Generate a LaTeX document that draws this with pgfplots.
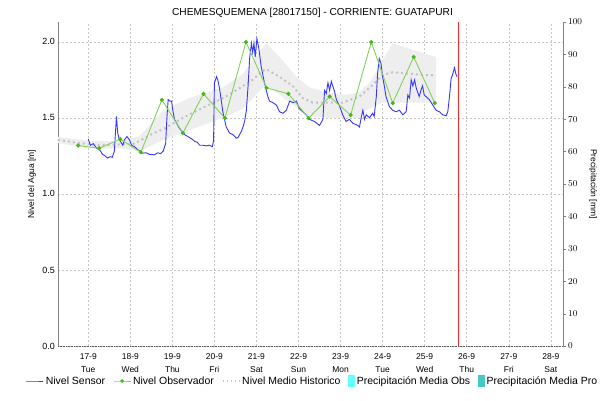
\documentclass[border=0pt]{standalone}
\usepackage{pgfplots}
\pgfplotsset{compat=1.18}
\usepackage{fontspec}
\setmainfont{Liberation Sans}
\definecolor{sensorc}{RGB}{55,55,255}
\definecolor{obslinec}{RGB}{130,210,90}
\definecolor{obsmarkc}{RGB}{70,185,20}
\definecolor{histc}{RGB}{195,195,195}
\definecolor{bandc}{RGB}{238,238,238}
\definecolor{pobsc}{RGB}{100,255,255}
\definecolor{pproc}{RGB}{70,200,200}
\definecolor{axisgray}{RGB}{130,130,130}
\begin{document}
\begin{tikzpicture}
\path[use as bounding box] (-58bp,-55bp) rectangle (550bp,346bp);
\begin{axis}[
  at={(0,0)}, anchor=south west,
  width=505bp, height=324bp, scale only axis,
  xmin=16.28, xmax=28.29, ymin=0, ymax=2.13,
  axis y line*=left, axis x line*=bottom,
  y axis line style={axisgray},
  x axis line style={black!65, dash pattern=on 0.8bp off 0.8bp},
  xtick={17,18,...,28},
  xticklabels={{17-9\\Tue},{18-9\\Wed},{19-9\\Thu},{20-9\\Fri},{21-9\\Sat},{22-9\\Sun},{23-9\\Mon},{24-9\\Tue},{25-9\\Wed},{26-9\\Thu},{27-9\\Fri},{28-9\\Sat}},
  xticklabel style={align=center, font=\fontsize{8.5}{13}\selectfont, inner sep=1bp, yshift=-6bp},
  ytick={0,0.5,...,2},
  yticklabels={0.0,0.5,1.0,1.5,2.0},
  yticklabel style={font=\fontsize{9}{10}\selectfont, inner sep=1bp, xshift=-2bp},
  major tick length=0pt,
  xmajorgrids, ymajorgrids,
  grid style={gray!45, dash pattern=on 2bp off 2bp, line width=0.5bp},
  ylabel={Nivel del Agua [m]},
  every axis y label/.style={at={(axis description cs:0,0.5)}, xshift=-26bp, rotate=90, anchor=center, font=\fontsize{8.5}{10}\selectfont},
  title={CHEMESQUEMENA [28017150] - CORRIENTE: GUATAPURI},
  every axis title/.style={at={(axis description cs:0.5,1)}, anchor=base, yshift=6.5bp, xshift=2bp, font=\fontsize{10.2}{12}\selectfont},
  legend style={at={(0.504,-0.108)}, anchor=center, draw=none, fill=none,
    font=\fontsize{10.5}{12}\selectfont, inner sep=0pt,
    /tikz/every even column/.append style={column sep=6bp}},
  legend columns=5,
  legend cell align=left,
]
% historical band
\addplot[fill=bandc, draw=none, forget plot] coordinates {
(16.28,1.375) (17.0,1.35) (17.75,1.345) (18.22,1.38) (18.78,1.55) (19.41,1.63)
(20.20,1.70) (20.68,1.79) (21.23,1.99) (21.55,1.90) (21.95,1.77) (22.26,1.70)
(22.66,1.67) (23.13,1.65) (23.45,1.67) (23.69,1.73) (24.24,1.99) (25.27,1.90)
(25.27,1.60) (24.0,1.60) (23.6,1.55) (23.45,1.50) (22.66,1.50) (22.26,1.51)
(21.79,1.60) (21.23,1.72) (20.68,1.56) (20.20,1.50) (19.41,1.42) (18.78,1.355)
(18.22,1.28) (17.75,1.30) (17.0,1.30) (16.28,1.335)
} -- cycle;
% historical mean
\addplot[histc, line width=2bp, dash pattern=on 2bp off 3bp, forget plot] coordinates {
(16.28,1.355) (16.75,1.335) (17.25,1.32) (17.75,1.325) (18.10,1.33) (18.49,1.39)
(18.81,1.43) (19.25,1.50) (19.75,1.57) (20.28,1.64) (20.91,1.75) (21.10,1.80)
(21.23,1.82) (21.55,1.77) (21.86,1.71) (22.10,1.63) (22.34,1.60) (22.66,1.60)
(23.05,1.60) (23.45,1.64) (23.70,1.70) (24.00,1.78) (24.24,1.80) (24.64,1.79)
(25.03,1.78) (25.25,1.78)
};
% sensor
\addplot[sensorc, line width=0.9bp, forget plot] coordinates {
(17.00,1.36) (17.05,1.32) (17.12,1.33) (17.20,1.30) (17.27,1.29) (17.34,1.26)
(17.40,1.25) (17.46,1.235) (17.52,1.245) (17.57,1.24) (17.62,1.28) (17.67,1.51)
(17.70,1.40) (17.74,1.355) (17.82,1.32) (17.86,1.355) (17.92,1.377) (17.98,1.355)
(18.03,1.32) (18.10,1.31) (18.18,1.29) (18.29,1.268) (18.38,1.27) (18.45,1.26)
(18.57,1.257) (18.65,1.27) (18.72,1.265) (18.78,1.28) (18.84,1.33) (18.87,1.50)
(18.90,1.62) (18.94,1.61) (18.98,1.61) (19.01,1.55) (19.05,1.49) (19.11,1.46)
(19.17,1.43) (19.23,1.41) (19.29,1.39) (19.35,1.38) (19.41,1.37) (19.47,1.36)
(19.53,1.345) (19.59,1.34) (19.65,1.32) (19.72,1.32) (19.81,1.316) (19.88,1.32)
(19.95,1.31) (19.98,1.35) (20.00,1.73) (20.05,1.77) (20.08,1.75) (20.12,1.695)
(20.16,1.62) (20.20,1.54) (20.24,1.49) (20.28,1.44) (20.32,1.42) (20.36,1.40)
(20.44,1.39) (20.52,1.366) (20.56,1.37) (20.60,1.39) (20.64,1.41) (20.68,1.44)
(20.72,1.48) (20.76,1.55) (20.80,1.71) (20.84,1.90) (20.88,1.99) (20.91,1.93)
(20.94,1.99) (20.97,1.90) (21.01,2.02) (21.06,1.95) (21.11,1.84) (21.19,1.73)
(21.27,1.64) (21.31,1.61) (21.39,1.60) (21.47,1.585) (21.55,1.54) (21.63,1.53)
(21.71,1.55) (21.79,1.61) (21.87,1.60) (21.95,1.61) (22.02,1.56) (22.10,1.54)
(22.18,1.52) (22.26,1.49) (22.38,1.476) (22.50,1.45) (22.58,1.49) (22.62,1.68)
(22.66,1.66) (22.70,1.73) (22.74,1.68) (22.78,1.74) (22.86,1.67) (22.90,1.62)
(22.98,1.575) (23.05,1.52) (23.13,1.476) (23.21,1.49) (23.29,1.465) (23.41,1.45)
(23.45,1.44) (23.49,1.50) (23.53,1.55) (23.57,1.49) (23.61,1.52) (23.69,1.50)
(23.76,1.53) (23.80,1.51) (23.85,1.64) (23.88,1.79) (23.92,1.89) (23.96,1.86)
(24.00,1.77) (24.04,1.71) (24.08,1.64) (24.16,1.575) (24.24,1.55) (24.32,1.54)
(24.40,1.55) (24.48,1.52) (24.56,1.54) (24.60,1.65) (24.64,1.63) (24.68,1.75)
(24.72,1.71) (24.76,1.75) (24.80,1.695) (24.87,1.64) (24.91,1.68) (24.95,1.71)
(24.99,1.65) (25.03,1.64) (25.11,1.62) (25.19,1.585) (25.27,1.55) (25.35,1.54)
(25.43,1.52) (25.51,1.513) (25.55,1.54) (25.59,1.64) (25.63,1.76) (25.66,1.78)
(25.71,1.83) (25.74,1.79) (25.77,1.77)
};
% observer
\addplot[obslinec, line width=0.9bp, mark=*, mark size=1.6bp,
  mark options={fill=obsmarkc, draw=obsmarkc}, forget plot] coordinates {
(16.76,1.318) (17.26,1.30) (17.76,1.36) (18.25,1.274) (18.75,1.618) (19.25,1.40)
(19.74,1.658) (20.25,1.498) (20.75,1.998) (21.24,1.697) (21.76,1.658) (22.24,1.498)
(22.74,1.64) (23.24,1.518) (23.73,1.998) (24.24,1.597) (24.74,1.90) (25.24,1.597)
};
% current time marker
\addplot[red!85, line width=0.8bp, forget plot] coordinates {(25.80,0) (25.80,2.13)};
% legend
\addlegendimage{sensorc, line width=0.9bp}
\addlegendentry{Nivel Sensor}
\addlegendimage{obslinec, line width=0.9bp, mark=*, mark size=1.3bp, mark options={fill=obsmarkc, draw=obsmarkc}}
\addlegendentry{Nivel Observador}
\addlegendimage{histc, line width=1.4bp, dash pattern=on 1.6bp off 2.4bp}
\addlegendentry{Nivel Medio Historico}
\addlegendimage{legend image code/.code={\fill[pobsc] (0.35cm,-5.5bp) rectangle ++(6bp,11bp);}}
\addlegendentry{Precipitación Media Obs}
\addlegendimage{legend image code/.code={\fill[pproc] (0.35cm,-5.5bp) rectangle ++(6bp,11bp);}}
\addlegendentry{Precipitación Media Pro}
\end{axis}
\begin{axis}[
  at={(0,0)}, anchor=south west,
  width=505bp, height=324bp, scale only axis,
  xmin=16.28, xmax=28.29, ymin=0, ymax=100,
  axis x line=none, axis y line*=right,
  y axis line style={axisgray},
  ytick={0,10,...,100},
  tick align=outside, major tick length=3bp,
  tick style={axisgray},
  yticklabel style={font=\fontsize{9}{10}\selectfont, inner sep=1bp, xshift=1bp},
  ylabel={Precipitación [mm]},
  every axis y label/.style={at={(axis description cs:1,0.5)}, xshift=30bp, rotate=-90, anchor=center, font=\fontsize{8.5}{10}\selectfont},
]
\addplot[draw=none] coordinates {(17,0)};
\end{axis}
\end{tikzpicture}
\end{document}
